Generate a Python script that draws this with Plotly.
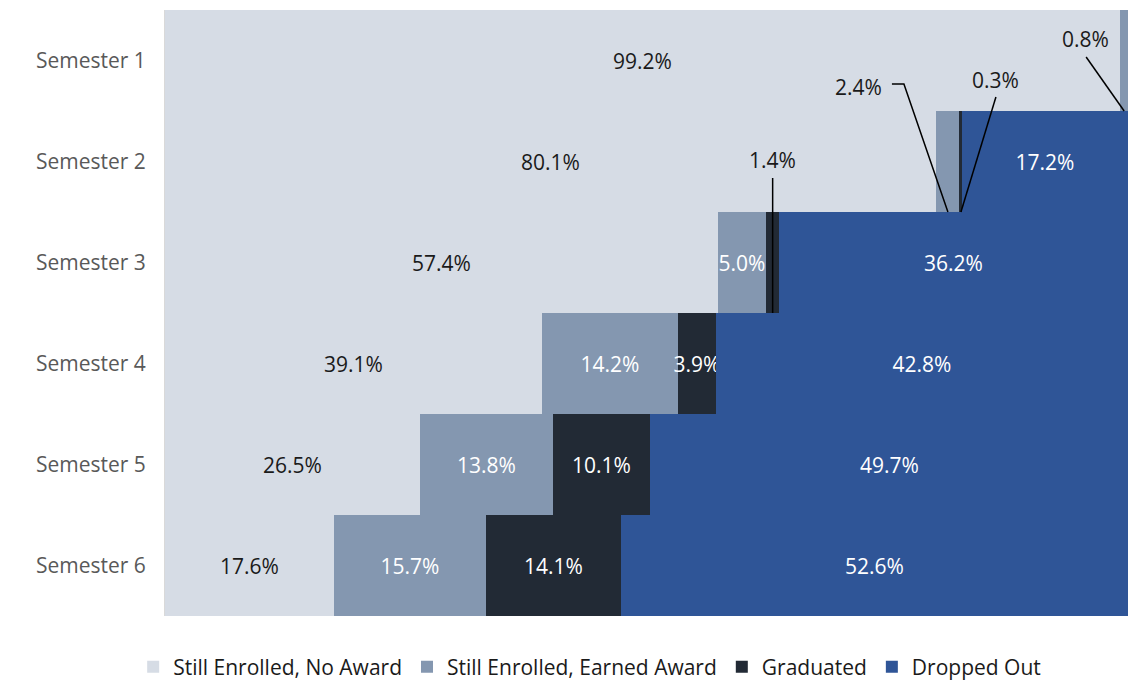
import plotly.graph_objects as go

# semester-by-semester outcome shares (%)
semesters = ["Semester 1", "Semester 2", "Semester 3", "Semester 4", "Semester 5", "Semester 6"]
no_award = [99.2, 80.1, 57.4, 39.1, 26.5, 17.6]
earned_award = [0.8, 2.4, 5.0, 14.2, 13.8, 15.7]
graduated = [0.0, 0.3, 1.4, 3.9, 10.1, 14.1]
dropped_out = [0.0, 17.2, 36.2, 42.8, 49.7, 52.6]

series_names = ["Still Enrolled, No Award", "Still Enrolled, Earned Award", "Graduated", "Dropped Out"]
series_values = [no_award, earned_award, graduated, dropped_out]
colors = ["#d6dce5", "#8497b0", "#222a35", "#2f5597"]
label_colors = ["#1a1a1a", "white", "white", "white"]

# small segments labelled outside with a leader line:
# (series, row, label offset px, leader line points px relative to segment bottom-centre)
callouts = [
    (1, 0, (-39, -72), [(-38, -54), (0, 0)]),
    (1, 1, (-89, -125), [(-56, -128), (-44, -128), (0, 0)]),
    (2, 1, (35, -132), [(35, -115), (0, 0)]),
    (2, 2, (0, -153), [(0, -135), (0, 0)]),
]
called = {(s, r) for s, r, _, _ in callouts}

rows = list(range(len(semesters)))
fig = go.Figure()
for i, (name, vals) in enumerate(zip(series_names, series_values)):
    text = ["" if (v == 0 or (i, r) in called) else f"{v:.1f}%" for r, v in enumerate(vals)]
    fig.add_trace(go.Bar(
        y=rows, x=vals, name=name, orientation="h",
        marker=dict(color=colors[i], line=dict(width=0)),
        text=text, textposition="inside", insidetextanchor="middle",
        constraintext="none", textangle=0,
        textfont=dict(size=21, color=label_colors[i]),
        hoverinfo="skip",
    ))

for s, r, (dx, dy), pts in callouts:
    start = sum(series_values[k][r] for k in range(s))
    ax_x = start + series_values[s][r] / 2
    ax_y = r + 0.5
    path = "M" + " L".join(f"{px},{-py}" for px, py in pts)
    fig.add_shape(type="path", path=path, xref="x", yref="y",
                  xsizemode="pixel", ysizemode="pixel",
                  xanchor=ax_x, yanchor=ax_y,
                  line=dict(color="black", width=1.5))
    fig.add_annotation(x=ax_x, y=ax_y, text=f"{series_values[s][r]:.1f}%",
                       showarrow=False, xshift=dx, yshift=-dy,
                       font=dict(size=21, color="#1a1a1a"))

fig.update_layout(
    barmode="stack", bargap=0,
    width=1130, height=680,
    margin=dict(l=165, r=2, t=10, b=64),
    plot_bgcolor="white", paper_bgcolor="white",
    font=dict(family="Open Sans, sans-serif", size=21, color="#1a1a1a"),
    uniformtext=dict(minsize=21, mode="show"),
    legend=dict(orientation="h", x=0.441, xanchor="center",
                yref="container", y=0.019, yanchor="middle",
                font=dict(size=21, color="#1a1a1a"), itemwidth=30, traceorder="normal"),
    showlegend=True,
)
fig.update_xaxes(range=[0, 100], showticklabels=False, showgrid=False, zeroline=False,
                 automargin=False)
fig.update_yaxes(tickvals=rows, ticktext=semesters, range=[5.5, -0.5], automargin=False,
                 showgrid=False, zeroline=False, showline=True, linecolor="#d9d9d9",
                 ticks="", ticklabelstandoff=14, tickfont=dict(size=21, color="#595959"))

fig.write_html("out.html", config={"displayModeBar": False},
               post_script="document.body.style.margin='0';")
